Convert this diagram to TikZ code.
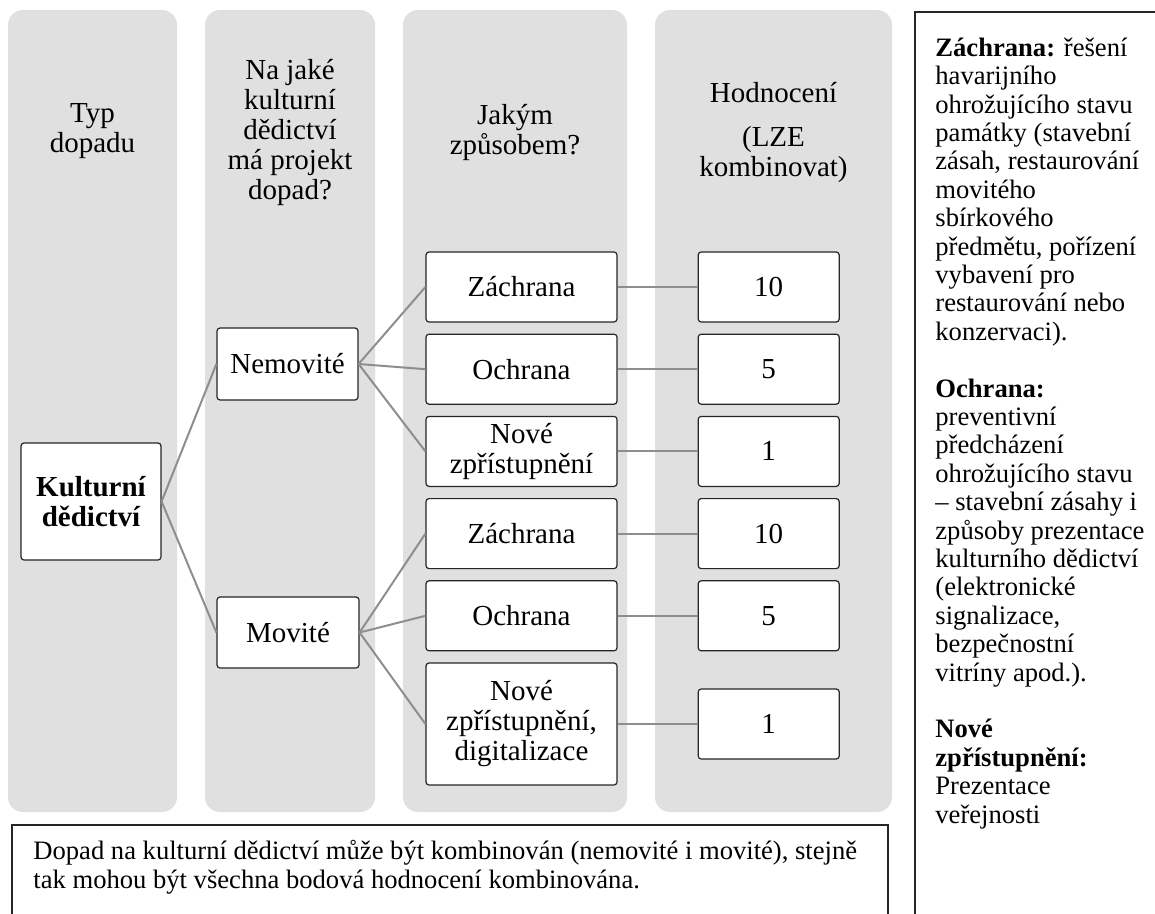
\documentclass[tikz,border=0pt]{standalone}
\usepackage{fontspec}
\setmainfont{Liberation Serif}
\usepackage{tikz}
\usetikzlibrary{positioning}
\definecolor{sedapozadi}{RGB}{224,224,224}
\definecolor{sedaspoj}{RGB}{142,142,142}
\tikzset{
  sloupec/.style={fill=sedapozadi,rounded corners=7.5pt},
  krabice/.style={draw=black!85,fill=white,line width=0.6pt,rounded corners=1.5pt,
    align=center,inner sep=0pt,font=\fontsize{14.5}{15}\selectfont},
  zpusob/.style={krabice,minimum width=95.5pt,minimum height=35pt},
  hodnota/.style={krabice,minimum width=70.5pt,minimum height=35pt,right=40pt of #1},
  hlava/.style={align=center,anchor=base,inner sep=0pt,font=\fontsize{14.5}{15}\selectfont},
  spoj/.style={draw=sedaspoj,line width=1pt},
  ramecek/.style={draw=black!85,line width=0.6pt},
  poznamka/.style={align=left,anchor=base west,inner sep=0pt,font=\fontsize{13.3}{14.2}\selectfont}
}
\begin{document}
\begin{tikzpicture}[x=0.5pt,y=-0.5pt]
\useasboundingbox(0,0)rectangle(1155,914);
% sloupce
\foreach \xa/\xb in {8/177,205/375,403/627,655/892}
  \fill[sloupec](\xa,10)rectangle(\xb,812);
% hlavicky (base = posledni radek)
\node[hlava](h1)at(92.5,153){Typ\\dopadu};
\node[hlava](h2)at(290,200){Na jaké\\kulturní\\dědictví\\má projekt\\dopad?};
\node[hlava](h3)at(515,155){Jakým\\způsobem?};
\node[hlava](h4)at(773.5,177){Hodnocení\\[7pt](LZE\\kombinovat)};
% strom
\node[krabice,minimum width=70pt,minimum height=58.5pt,font=\fontsize{14.5}{15}\selectfont\bfseries](kult)at(91,501.5){Kulturní\\dědictví};
\node[krabice,minimum width=70.5pt,minimum height=36pt](nemov)at(287.5,364){Nemovité};
\node[krabice,minimum width=71pt,minimum height=35.5pt](mov)at(288,632.5){Movité};
\node[zpusob](zach1)at(521.5,287){Záchrana};
\node[zpusob,below=5.5pt of zach1](ochr1){Ochrana};
\node[zpusob,below=5.5pt of ochr1](nove1){Nové\\zpřístupnění};
\node[zpusob,below=5.5pt of nove1](zach2){Záchrana};
\node[zpusob,below=5.5pt of zach2](ochr2){Ochrana};
\node[zpusob,minimum height=61pt,below=5.5pt of ochr2](nove2){Nové\\zpřístupnění,\\digitalizace};
\node[hodnota=zach1](b1){10};
\node[hodnota=ochr1](b2){5};
\node[hodnota=nove1](b3){1};
\node[hodnota=zach2](b4){10};
\node[hodnota=ochr2](b5){5};
\node[hodnota=nove2](b6){1};
\foreach \a/\b in {kult/nemov,kult/mov,nemov/zach1,nemov/ochr1,nemov/nove1,mov/zach2,mov/ochr2,mov/nove2,
  zach1/b1,ochr1/b2,nove1/b3,zach2/b4,ochr2/b5,nove2/b6}
  \draw[spoj](\a.east)--(\b.west);
% poznamky
\draw[ramecek](12,930)--(12,825)--(888,825)--(888,930);
\node[poznamka](pozn)at(33,888){Dopad na kulturní dědictví může být kombinován (nemovité i movité), stejně\\tak mohou být všechna bodová hodnocení kombinována.};
\draw[ramecek](1160,12)--(915,12)--(915,930);
\node[poznamka](legenda)at(935,823){\textbf{Záchrana:} řešení\\havarijního\\ohrožujícího stavu\\památky (stavební\\zásah, restaurování\\movitého\\sbírkového\\předmětu, pořízení\\vybavení pro\\restaurování nebo\\konzervaci).\\[14.2pt]
\textbf{Ochrana:}\\preventivní\\předcházení\\ohrožujícího stavu\\– stavební zásahy i\\způsoby prezentace\\kulturního dědictví\\(elektronické\\signalizace,\\bezpečnostní\\vitríny apod.).\\[14.2pt]
\textbf{Nové}\\\textbf{zpřístupnění:}\\Prezentace\\veřejnosti};
\end{tikzpicture}
\end{document}
